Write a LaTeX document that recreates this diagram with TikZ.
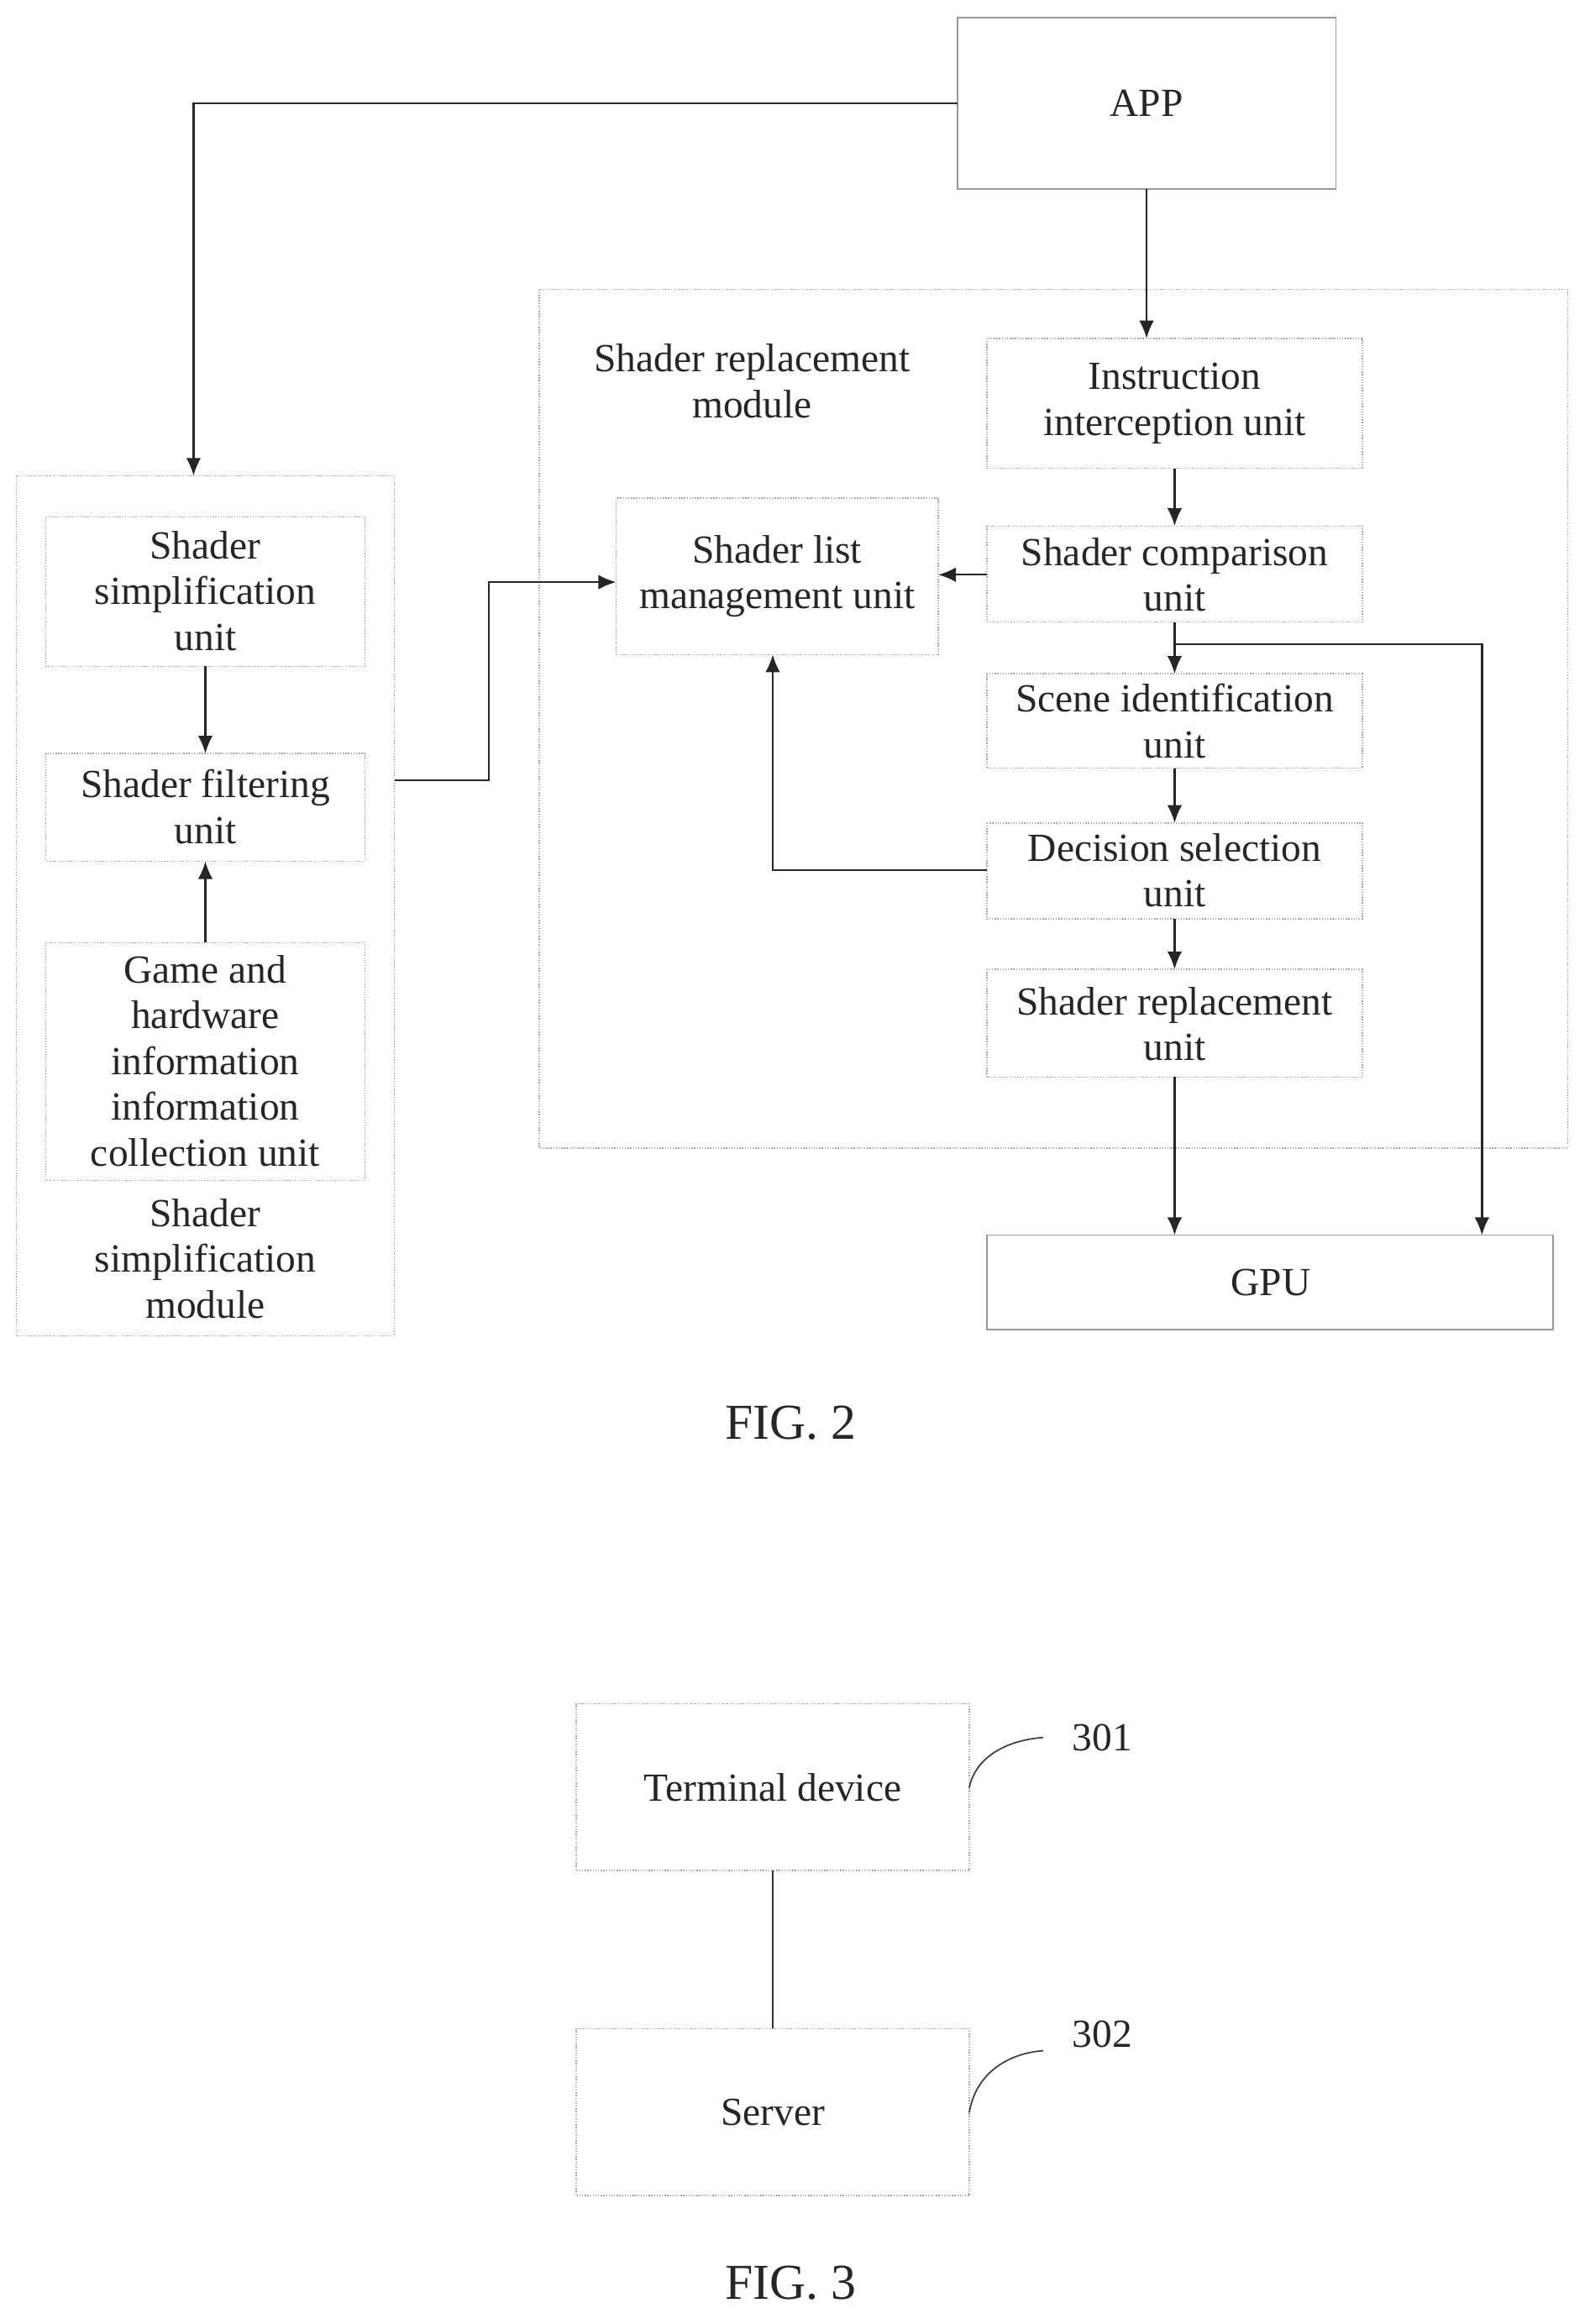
\documentclass[tikz,border=0pt]{standalone}
\usepackage{fontspec}
\setmainfont{Liberation Serif}
\usetikzlibrary{arrows.meta}
\begin{document}
\begin{tikzpicture}[x=1pt,y=-1pt,
 box/.style={draw=gray!70,densely dotted,line width=0.8pt},
 sbox/.style={draw=gray!80,line width=0.8pt},
 txt/.style={align=center,font=\fontsize{27}{31}\selectfont,text=black!85},
 arr/.style={-{Latex[length=12pt,width=10pt]},line width=1.3pt,black!85}]
\useasboundingbox (0,0) rectangle (1076,1573);
\fill[white] (0,0) rectangle (1076,1573);
% boxes
\draw[sbox] (648,12) rectangle (904,128); \node[txt] (app) at (776,70) {APP};
\coordinate (appL) at (648,70); \coordinate (appB) at (776,128);
\draw[box] (365,196) rectangle (1061,777);
\node[txt] (srm) at (509,258) {Shader replacement\\module};
\draw[box] (668,229) rectangle (922,317); \node[txt] (iiu) at (795,273) {Instruction\\interception unit};
\draw[box] (417,337) rectangle (635,443); \node[txt] (slm) at (526,390) {Shader list\\management unit};
\draw[box] (668,356) rectangle (922,421); \node[txt] (scu) at (795,389) {Shader comparison\\unit};
\draw[box] (668,456) rectangle (922,520); \node[txt] (siu) at (795,488) {Scene identification\\unit};
\draw[box] (668,557) rectangle (922,622); \node[txt] (dsu) at (795,589) {Decision selection\\unit};
\draw[box] (668,656) rectangle (922,729); \node[txt] (sru) at (795,693) {Shader replacement\\unit};
\draw[sbox] (668,836) rectangle (1051,900); \node[txt] (gpu) at (860,868) {GPU};
\draw[box] (11,322) rectangle (267,904);
\draw[box] (31,350) rectangle (247,451); \node[txt] (ssu) at (139,400) {Shader\\simplification\\unit};
\draw[box] (31,510) rectangle (247,583); \node[txt] (sfu) at (139,546) {Shader filtering\\unit};
\draw[box] (31,638) rectangle (247,799); \node[txt] (ghu) at (139,718) {Game and\\hardware\\information\\information\\collection unit};
\node[txt] (ssm) at (139,852) {Shader\\simplification\\module};
\node[txt,font=\fontsize{34}{38}\selectfont] (fig2) at (535,963) {FIG. 2};
% arrows
\draw[arr] (appL) -- (131,70) -- (131,322);
\draw[arr] (appB) -- (776,229);
\draw[arr] (795,317) -- (795,356);
\draw[arr] (668,389) -- (635,389);
\draw[arr] (795,421) -- (795,456);
\draw[arr] (795,436) -- (1003,436) -- (1003,836);
\draw[arr] (795,520) -- (795,557);
\draw[arr] (668,589) -- (523,589) -- (523,443);
\draw[arr] (795,622) -- (795,656);
\draw[arr] (795,729) -- (795,836);
\draw[arr] (139,451) -- (139,510);
\draw[arr] (139,638) -- (139,583);
\draw[arr] (267,528) -- (331,528) -- (331,394) -- (417,394);
% fig 3
\draw[box] (390,1153) rectangle (656,1266); \node[txt] (td) at (523,1210) {Terminal device};
\draw[box] (390,1373) rectangle (656,1486); \node[txt] (srv) at (523,1430) {Server};
\draw[line width=1.2pt,black!80] (523,1266) -- (523,1373);
\draw[line width=1pt,black!75] (656,1210) .. controls (660,1190) and (680,1178) .. (706,1176);
\draw[line width=1pt,black!75] (656,1430) .. controls (660,1405) and (680,1390) .. (706,1388);
\node[txt] (l301) at (746,1176) {301};
\node[txt] (l302) at (746,1377) {302};
\node[txt,font=\fontsize{34}{38}\selectfont] (fig3) at (535,1545) {FIG. 3};
\end{tikzpicture}
\end{document}
